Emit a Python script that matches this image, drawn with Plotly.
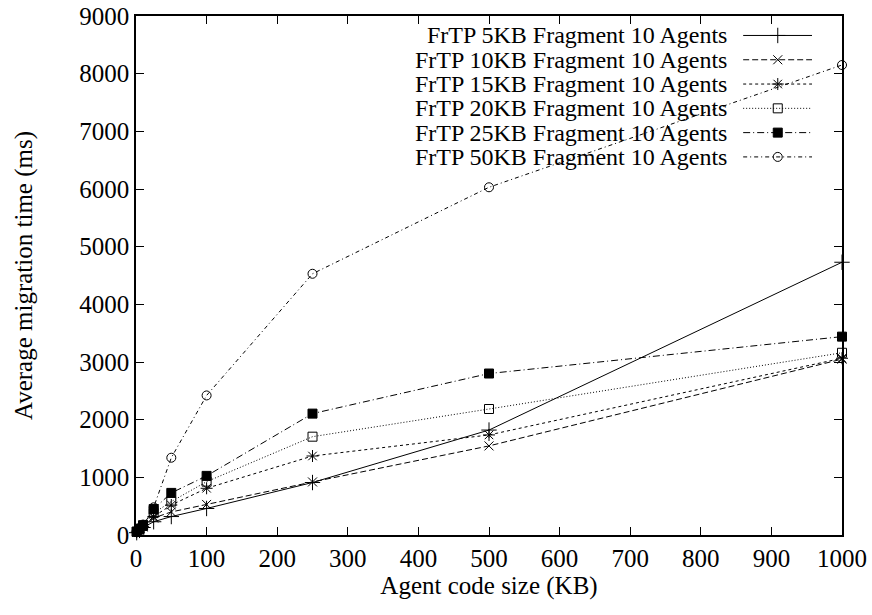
import plotly.graph_objects as go

code_size_kb = [1, 5, 10, 25, 50, 100, 250, 500, 1000]

series_names = [
    "FrTP 5KB Fragment 10 Agents",
    "FrTP 10KB Fragment 10 Agents",
    "FrTP 15KB Fragment 10 Agents",
    "FrTP 20KB Fragment 10 Agents",
    "FrTP 25KB Fragment 10 Agents",
    "FrTP 50KB Fragment 10 Agents",
]
frag_5kb = [40, 80, 130, 230, 320, 460, 910, 1820, 4730]
frag_10kb = [45, 90, 140, 295, 400, 530, 920, 1545, 3050]
frag_15kb = [50, 95, 150, 320, 520, 810, 1370, 1735, 3065]
frag_20kb = [55, 100, 160, 380, 580, 925, 1705, 2185, 3160]
frag_25kb = [60, 110, 170, 450, 730, 1025, 2105, 2800, 3440]
frag_50kb = [65, 120, 180, 480, 1340, 2420, 4530, 6030, 8150]
series_values = [frag_5kb, frag_10kb, frag_15kb, frag_20kb, frag_25kb, frag_50kb]

x_ticks = [0, 100, 200, 300, 400, 500, 600, 700, 800, 900, 1000]
y_ticks = [0, 1000, 2000, 3000, 4000, 5000, 6000, 7000, 8000, 9000]

symbols = ["cross-thin-open", "x-thin-open", "asterisk-open", "square-open", "square", "circle-open"]
sizes = [11, 9, 10, 9, 9, 9]
dashes = ["solid", "6px,3px", "3px,3px", "1px,2px", "7px,3px,1px,3px", "4px,3px,1px,3px"]

FONT = "Liberation Serif, Times New Roman, serif"
FS = 25
LEG_FS = 24

fig = go.Figure()
for name, vals, sym, sz, dash in zip(series_names, series_values, symbols, sizes, dashes):
    fig.add_trace(go.Scatter(
        x=code_size_kb, y=vals, name=name, mode="lines+markers",
        line=dict(color="black", width=1, dash=dash),
        marker=dict(symbol=sym, size=sz, color="black", line=dict(color="black", width=1)),
        showlegend=False, hoverinfo="x+y", cliponaxis=False,
    ))

# gnuplot-style key: text on the left (right-aligned), sample on the right
row0 = 0.9625
row_step = 0.0468
for i, (name, sym, sz, dash) in enumerate(zip(series_names, symbols, sizes, dashes)):
    yy = row0 - i * row_step
    fig.add_trace(go.Scatter(
        x=[0.86, 0.9575], y=[yy, yy], mode="lines", xaxis="x2", yaxis="y2",
        line=dict(color="black", width=1, dash=dash), showlegend=False, hoverinfo="skip",
    ))
    fig.add_trace(go.Scatter(
        x=[0.909], y=[yy], mode="markers", xaxis="x2", yaxis="y2",
        marker=dict(symbol=sym, size=sz, color="black", line=dict(color="black", width=1)),
        showlegend=False, hoverinfo="skip",
    ))
    fig.add_annotation(
        x=0.8385, y=yy, xref="paper", yref="paper", text=name, showarrow=False,
        xanchor="right", yanchor="middle", borderpad=0,
        font=dict(family=FONT, size=LEG_FS, color="black"),
    )

axis_common = dict(
    showline=True, linecolor="black", linewidth=1.5, mirror="ticks",
    ticks="inside", ticklen=8, tickwidth=1, tickcolor="black",
    showgrid=False, zeroline=False, automargin=False,
    tickfont=dict(family=FONT, size=FS, color="black"),
)

fig.update_layout(
    width=872, height=615,
    margin=dict(l=136, r=30, t=16, b=80, autoexpand=False),
    paper_bgcolor="white", plot_bgcolor="white",
    font=dict(family=FONT, size=FS, color="black"),
    xaxis=dict(range=[0, 1000], tickvals=x_ticks, ticktext=[str(v) for v in x_ticks],
               title=dict(text="Agent code size (KB)", font=dict(family=FONT, size=FS), standoff=3),
               **axis_common),
    yaxis=dict(range=[0, 9000], tickvals=y_ticks, ticktext=[str(v) for v in y_ticks],
               title=dict(text="Average migration time (ms)", font=dict(family=FONT, size=FS), standoff=40),
               **axis_common),
    xaxis2=dict(range=[0, 1], overlaying="x", visible=False, fixedrange=True),
    yaxis2=dict(range=[0, 1], overlaying="y", visible=False, fixedrange=True),
)

fig.write_html(
    "out.html",
    config={"displayModeBar": False},
    post_script="document.body.style.margin='0';document.body.style.padding='0';",
)
